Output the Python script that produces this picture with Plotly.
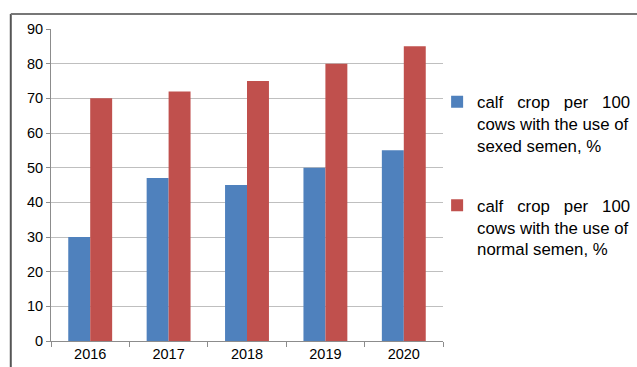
import plotly.graph_objects as go

years = ["2016", "2017", "2018", "2019", "2020"]
sexed = [30, 47, 45, 50, 55]
normal = [70, 72, 75, 80, 85]
name_sexed = "calf\u00a0\u00a0\u00a0crop\u00a0\u00a0\u00a0per\u00a0\u00a0\u00a0100<br>cows with the use of<br>sexed semen, %"
name_normal = "calf\u00a0\u00a0\u00a0crop\u00a0\u00a0\u00a0per\u00a0\u00a0\u00a0100<br>cows with the use of<br>normal semen, %"
y_ticks = [0, 10, 20, 30, 40, 50, 60, 70, 80, 90]

fig = go.Figure()
fig.add_trace(go.Bar(x=years, y=sexed, name=name_sexed, marker_color="#4F81BD",
                     marker_line_width=0, legendgroup="a"))
fig.add_trace(go.Bar(x=years, y=normal, name=name_normal, marker_color="#C0504D",
                     marker_line_width=0, legendgroup="b"))

fig.update_layout(
    width=637, height=367,
    margin=dict(l=51, r=194, t=29, b=26, autoexpand=False),
    paper_bgcolor="white", plot_bgcolor="white",
    barmode="group", bargap=0.44, bargroupgap=0,
    font=dict(family="Liberation Sans, Arial, sans-serif", color="#000000"),
    xaxis=dict(type="category", showgrid=False, showline=True, linecolor="#8c8c8c",
               ticks="outside", tickson="boundaries", ticklen=5, tickcolor="#8c8c8c",
               automargin=False,
               tickfont=dict(size=14.5, family="Liberation Sans, Arial, sans-serif")),
    yaxis=dict(range=[0, 90], tickvals=y_ticks, showgrid=True, gridcolor="#bfbfbf",
               gridwidth=1, showline=True, linecolor="#8c8c8c", ticks="outside",
               ticklen=4, tickcolor="#8c8c8c", zeroline=False, automargin=False,
               tickfont=dict(size=14.5, family="Liberation Sans, Arial, sans-serif")),
    legend=dict(x=0.985, y=0.823, xanchor="left", yanchor="top",
                font=dict(size=16.8, family="Liberation Sans, Arial, sans-serif"),
                valign="top", tracegroupgap=35, bgcolor="rgba(0,0,0,0)",
                traceorder="grouped"),
    shapes=[
        dict(type="line", xref="paper", yref="paper", x0=-0.1026, x1=-0.1026,
             y0=-0.2, y1=1.048, line=dict(color="#555555", width=2)),
        dict(type="line", xref="paper", yref="paper", x0=-0.1026, x1=1.7,
             y0=1.048, y1=1.048, line=dict(color="#777777", width=2)),
    ],
)

fig.write_html("out.html")
